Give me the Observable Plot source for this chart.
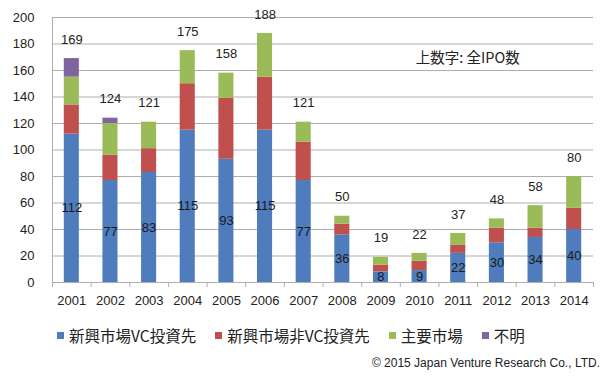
<!DOCTYPE html>
<html><head><meta charset="utf-8">
<script src="https://cdn.jsdelivr.net/npm/d3@7"></script>
<script src="https://cdn.jsdelivr.net/npm/@observablehq/plot@0.6"></script>
<style>
body{margin:0;background:#fff;font-family:"Liberation Sans",Arial,"Noto Sans CJK JP",sans-serif;color:#222;width:612px;height:380px;overflow:hidden;}
#legend{position:absolute;top:325px;left:57px;display:flex;align-items:center;font-family:"Noto Sans CJK JP",sans-serif;font-size:15.5px;line-height:20px;color:#222;}
#legend .item{display:flex;align-items:center;margin-right:19px;}
#legend .sw{width:7px;height:7px;margin-right:5px;}
#credit{position:absolute;top:356px;right:12px;font-size:12px;color:#222;font-family:"Liberation Sans",Arial,sans-serif;}
</style></head><body>
<div id="chart"></div>
<div id="legend"></div>
<div id="credit">© 2015 Japan Venture Research Co., LTD.</div>
<script>
const years = [2001,2002,2003,2004,2005,2006,2007,2008,2009,2010,2011,2012,2013,2014];
const vc = [112,77,83,115,93,115,77,36,8,9,22,30,34,40];
const nonVc = [22,19,18,35,46,40,29,8,5,7,6,11,7,16];
const major = [21,24,20,25,19,33,15,6,6,6,9,7,17,24];
const unknown = [14,4,0,0,0,0,0,0,0,0,0,0,0,0];
const totals = [169,124,121,175,158,188,121,50,19,22,37,48,58,80];
const seriesNames = ["新興市場VC投資先","新興市場非VC投資先","主要市場","不明"];
const seriesColors = ["#4F7CBD","#C0504D","#9BBB59","#8064A2"];
const yTicks = [0,20,40,60,80,100,120,140,160,180,200];
const note = "上数字: 全IPO数";

const seriesValues = [vc, nonVc, major, unknown];
const rows = [];
years.forEach((yr, i) => {
  let base = 0;
  seriesValues.forEach((vals, s) => {
    const v = vals[i];
    if (v > 0) rows.push({year: yr, series: seriesNames[s], y1: base, y2: base + v});
    base += v;
  });
});
const yearRows = years.map((yr, i) => ({year: yr, vc: vc[i], total: totals[i]}));
const boundaries = d3.range(years[0] - 0.5, years[years.length-1] + 1, 1);
const half = 0.195;

const chart = Plot.plot({
  width: 612, height: 312,
  marginLeft: 52, marginRight: 19, marginTop: 17, marginBottom: 30,
  style: {fontFamily: '"Liberation Sans", Arial, sans-serif', fontSize: "13px", color: "#222", background: "#fff"},
  x: {type: "linear", domain: [boundaries[0], boundaries[boundaries.length-1]], label: null},
  y: {domain: [0, 200], label: null},
  color: {domain: seriesNames, range: seriesColors},
  marks: [
    Plot.ruleY(yTicks.filter(d => d > 0), {stroke: "#AEAEAE", strokeWidth: 1}),
    Plot.ruleX([boundaries[0]], {stroke: "#AEAEAE", y1: 0, y2: 200}),
    Plot.rect(rows, {x1: d => d.year - half, x2: d => d.year + half, y1: "y1", y2: "y2", fill: "series"}),
    Plot.ruleY([0], {stroke: "#AEAEAE"}),
    Plot.axisX(boundaries, {tickSize: 5, tickFormat: () => "", stroke: "#AEAEAE", label: null}),
    Plot.axisX(years, {tickSize: 0, tickPadding: 13, tickFormat: d => String(d), fontSize: 13, label: null}),
    Plot.axisY(yTicks, {tickSize: 0, tickPadding: 18, fontSize: 13, label: null}),
    Plot.text(yearRows, {x: "year", y: "total", text: d => String(d.total), dy: -19, fontSize: 13, fill: "#222"}),
    Plot.text(yearRows, {x: "year", y: d => d.vc / 2, text: d => String(d.vc), fontSize: 13, fill: "#1a1a1a"}),
    Plot.text([note], {x: 2009.9, y: 169, text: d => d, textAnchor: "start", fontSize: 14.5, fontFamily: '"Noto Sans CJK JP", sans-serif', fill: "#222"})
  ]
});
document.getElementById("chart").appendChild(chart);

const legend = document.getElementById("legend");
seriesNames.forEach((name, i) => {
  const item = document.createElement("div");
  item.className = "item";
  const sw = document.createElement("span");
  sw.className = "sw";
  sw.style.background = seriesColors[i];
  const label = document.createElement("span");
  label.textContent = name;
  item.appendChild(sw); item.appendChild(label);
  legend.appendChild(item);
});
</script>
</body></html>
